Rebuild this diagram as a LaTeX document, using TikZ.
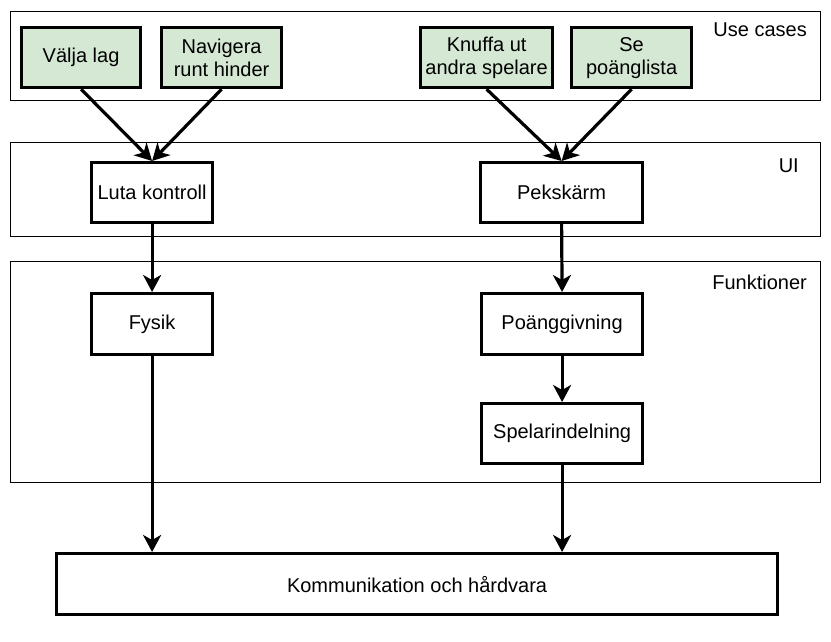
\documentclass[tikz,border=0pt]{standalone}
\usepackage{fontspec}
\setmainfont{Liberation Sans}
\usetikzlibrary{arrows.meta}
\definecolor{ucgreen}{HTML}{D5E8D4}
\begin{document}
\begin{tikzpicture}[x=1pt,y=-1pt,
  every node/.style={font=\fontsize{20}{23}\selectfont},
  container/.style={draw=black, line width=1pt, anchor=north west, inner sep=0pt, rectangle},
  box/.style={draw=black, line width=3.2pt, anchor=north west, inner sep=0pt, rectangle, align=center},
  ucbox/.style={box, fill=ucgreen},
  lbl/.style={anchor=base east, inner sep=0pt},
  arr/.style={line width=3.2pt, -{Stealth[length=17pt,width=18pt,inset=5pt]}}
]
\useasboundingbox (0,0) rectangle (831,642);
% containers
\node[container, minimum width=810pt, minimum height=89pt] (uc) at (10,11) {};
\node[container, minimum width=810pt, minimum height=94pt] (ui) at (10,142) {};
\node[container, minimum width=810pt, minimum height=221pt] (fk) at (10,261) {};
\node[lbl] (ucl) at (807,37) {Use cases};
\node[lbl] (uil) at (799,172) {UI};
\node[lbl] (fkl) at (807,289) {Funktioner};
% use cases
\node[ucbox, minimum width=119pt, minimum height=60pt] (valja) at (20,26) {Välja lag};
\node[ucbox, minimum width=120pt, minimum height=60pt] (nav) at (160,26) {Navigera\\runt hinder};
\node[ucbox, minimum width=132pt, minimum height=60pt] (knuffa) at (419,26) {Knuffa ut\\andra spelare};
\node[ucbox, minimum width=120pt, minimum height=60pt] (se) at (570,26) {Se\\poänglista};
% UI
\node[box, minimum width=121pt, minimum height=60pt] (luta) at (90,161) {Luta kontroll};
\node[box, minimum width=162pt, minimum height=60pt] (pek) at (479,161) {Pekskärm};
% Funktioner
\node[box, minimum width=121pt, minimum height=61pt] (fysik) at (90,292) {Fysik};
\node[box, minimum width=161pt, minimum height=61pt] (poang) at (480,292) {Poänggivning};
\node[box, minimum width=161pt, minimum height=60pt] (spelar) at (480,402) {Spelarindelning};
% bottom
\node[box, minimum width=721pt, minimum height=61pt] (komm) at (55,552) {Kommunikation och hårdvara};
% arrows
\draw[arr] (valja.south) -- (luta.north);
\draw[arr] (nav.south) -- (luta.north);
\draw[arr] (knuffa.south) -- (pek.north);
\draw[arr] (se.south) -- (pek.north);
\draw[arr] (luta.south) -- (fysik.north);
\draw[arr] (pek.south) -- (poang.north);
\draw[arr] (poang.south) -- (spelar.north);
\draw[arr] (fysik.south) -- (fysik.south |- komm.north);
\draw[arr] (spelar.south) -- (spelar.south |- komm.north);
\end{tikzpicture}
\end{document}
